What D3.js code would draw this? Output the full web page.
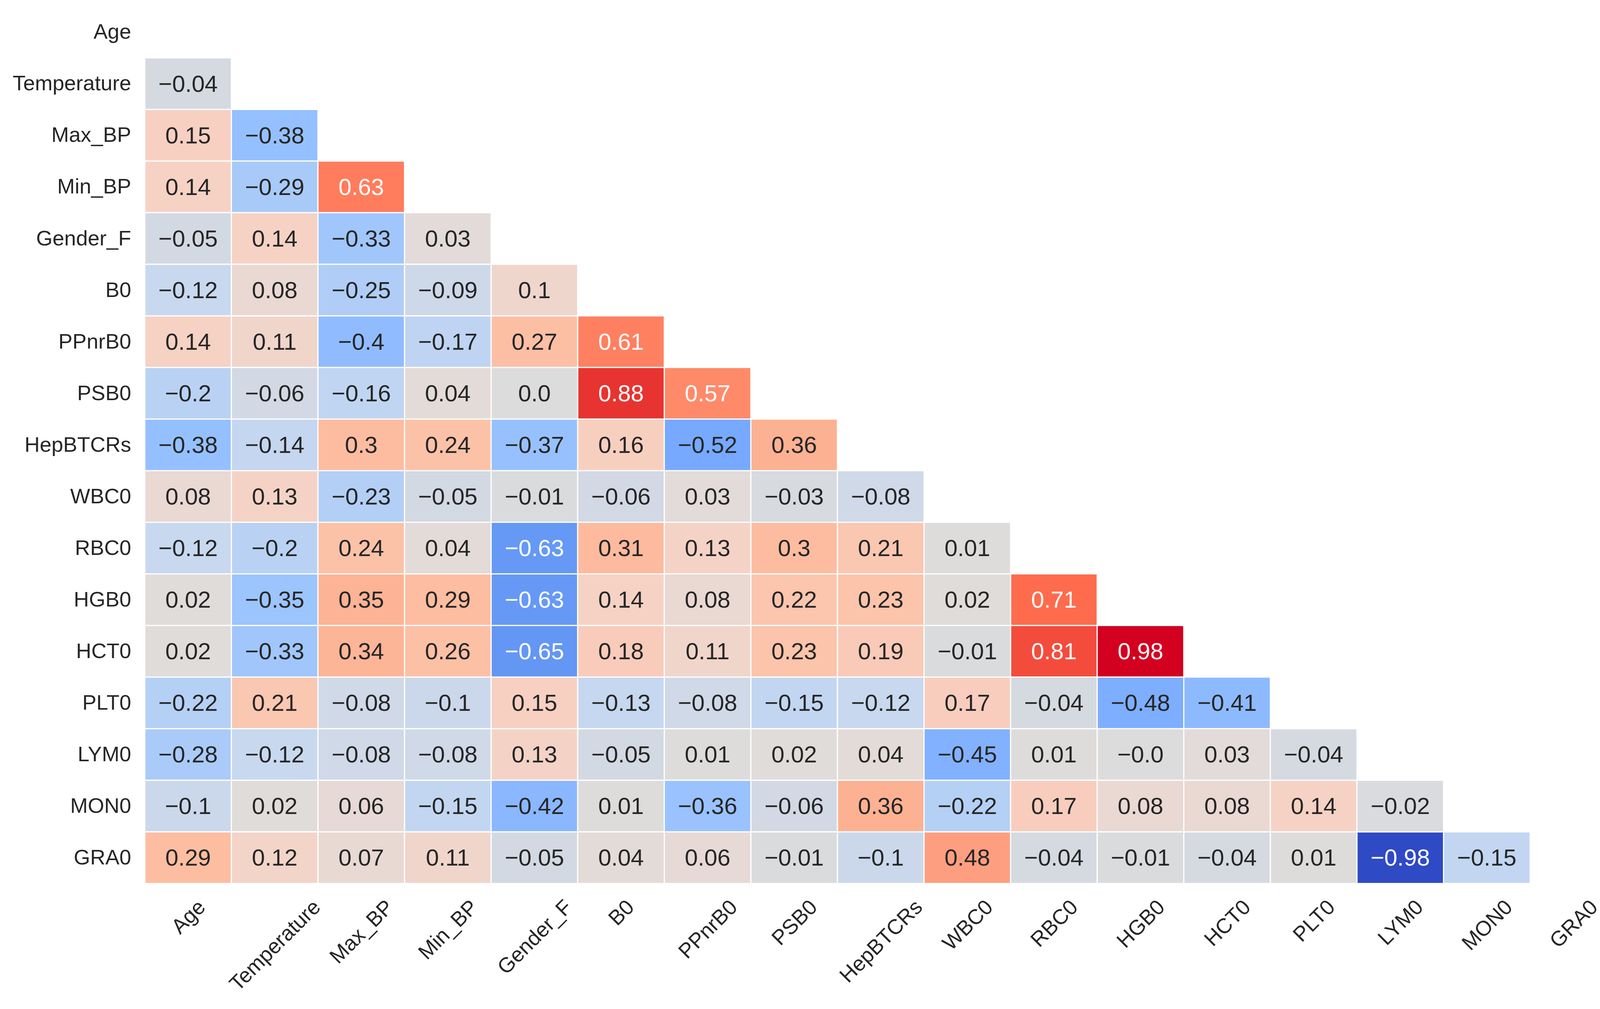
<!DOCTYPE html>
<html><head><meta charset="utf-8">
<script src="https://cdn.jsdelivr.net/npm/d3@7"></script>
<style>html,body{margin:0;padding:0;background:#fff;}</style>
</head><body>
<script>
// ---- data ----
const labels = ["Age","Temperature","Max_BP","Min_BP","Gender_F","B0","PPnrB0","PSB0","HepBTCRs","WBC0","RBC0","HGB0","HCT0","PLT0","LYM0","MON0","GRA0"];
// lower-triangle rows (row i has i values, columns 0..i-1)
const rowAge = [];
const rowTemperature = [-0.04];
const rowMaxBP = [0.15, -0.38];
const rowMinBP = [0.14, -0.29, 0.63];
const rowGenderF = [-0.05, 0.14, -0.33, 0.03];
const rowB0 = [-0.12, 0.08, -0.25, -0.09, 0.1];
const rowPPnrB0 = [0.14, 0.11, -0.4, -0.17, 0.27, 0.61];
const rowPSB0 = [-0.2, -0.06, -0.16, 0.04, 0.0, 0.88, 0.57];
const rowHepBTCRs = [-0.38, -0.14, 0.3, 0.24, -0.37, 0.16, -0.52, 0.36];
const rowWBC0 = [0.08, 0.13, -0.23, -0.05, -0.01, -0.06, 0.03, -0.03, -0.08];
const rowRBC0 = [-0.12, -0.2, 0.24, 0.04, -0.63, 0.31, 0.13, 0.3, 0.21, 0.01];
const rowHGB0 = [0.02, -0.35, 0.35, 0.29, -0.63, 0.14, 0.08, 0.22, 0.23, 0.02, 0.71];
const rowHCT0 = [0.02, -0.33, 0.34, 0.26, -0.65, 0.18, 0.11, 0.23, 0.19, -0.01, 0.81, 0.98];
const rowPLT0 = [-0.22, 0.21, -0.08, -0.1, 0.15, -0.13, -0.08, -0.15, -0.12, 0.17, -0.04, -0.48, -0.41];
const rowLYM0 = [-0.28, -0.12, -0.08, -0.08, 0.13, -0.05, 0.01, 0.02, 0.04, -0.45, 0.01, -0.0, 0.03, -0.04];
const rowMON0 = [-0.1, 0.02, 0.06, -0.15, -0.42, 0.01, -0.36, -0.06, 0.36, -0.22, 0.17, 0.08, 0.08, 0.14, -0.02];
const rowGRA0 = [0.29, 0.12, 0.07, 0.11, -0.05, 0.04, 0.06, -0.01, -0.1, 0.48, -0.04, -0.01, -0.04, 0.01, -0.98, -0.15];
const rows = [rowAge,rowTemperature,rowMaxBP,rowMinBP,rowGenderF,rowB0,rowPPnrB0,rowPSB0,rowHepBTCRs,rowWBC0,rowRBC0,rowHGB0,rowHCT0,rowPLT0,rowLYM0,rowMON0,rowGRA0];

// colour stops (diverging, coolwarm-like)
const colorStops = [-1,-0.98,-0.65,-0.63,-0.52,-0.45,-0.38,-0.33,-0.22,-0.12,-0.04,0,0.02,0.08,0.14,0.17,0.24,0.3,0.36,0.48,0.57,0.61,0.71,0.81,0.88,0.98,1];
const colorRange = ["#2c44c4","#2f4ac5","#6496f4","#6699f5","#76a9ff","#82b1ff","#95c0ff","#a0c6fc","#b5d0f5","#c8d8ef","#d5d9e0","#dcdcdc","#e0dcda","#ead8d2","#f6d2c4","#f8cdbd","#fcc2a8","#fdbca0","#fdb193","#fe9e80","#ff8a6a","#ff8060","#ff6b4d","#f44c3c","#e73430","#d40020","#d0001f"];

const cells = [];
rows.forEach((r,i)=> r.forEach((v,j)=> cells.push({row:labels[i], col:labels[j], v})));

const W = 4120, H = 2582;
const x0 = 370.7, cw = 221.65, y0 = 16, ch = 132.05;
const fsLab = 54, fsAnn = 60;
const font = "'Liberation Sans', Arial, Helvetica, sans-serif";

const svg = d3.select("body").append("svg").attr("width",W).attr("height",H)
  .style("font-family",font);

const x = d3.scaleBand().domain(labels).range([x0, x0 + cw*labels.length]).padding(0);
const y = d3.scaleBand().domain(labels).range([y0, y0 + ch*labels.length]).padding(0);
const color = d3.scaleLinear().domain(colorStops).range(colorRange).interpolate(d3.interpolateRgb).clamp(true);

const fmt = v => {
  let s = Math.abs(v).toString();
  if (!s.includes(".")) s += ".0";
  return (v < 0 || Object.is(v,-0)) ? "\u2212" + s : s;
};

const g = svg.append("g");
g.selectAll("rect").data(cells).join("rect")
  .attr("x", d=>x(d.col)).attr("y", d=>y(d.row))
  .attr("width", x.bandwidth()).attr("height", y.bandwidth())
  .attr("fill", d=>color(d.v))
  .attr("stroke","#fff").attr("stroke-width",3);

g.selectAll("text.ann").data(cells).join("text").attr("class","ann")
  .attr("x", d=>x(d.col)+x.bandwidth()/2)
  .attr("y", d=>y(d.row)+y.bandwidth()/2)
  .attr("text-anchor","middle").attr("dominant-baseline","central")
  .attr("font-size",fsAnn)
  .attr("fill", d=> Math.abs(d.v) >= 0.55 ? "#ffffff" : "#262626")
  .text(d=>fmt(d.v));

// y axis labels
const yAxis = d3.axisLeft(y).tickSize(0).tickPadding(35);
const yg = svg.append("g").attr("transform",`translate(${x0},0)`).call(yAxis);
yg.select(".domain").remove();
yg.selectAll("text").attr("font-size",fsLab).attr("font-family",font).attr("fill","#262626");

// x axis labels, rotated 45°, bbox top-aligned below heatmap
const xAxis = d3.axisBottom(x).tickSize(0).tickPadding(0);
const xg = svg.append("g").attr("transform",`translate(0,${y0 + ch*labels.length})`).call(xAxis);
xg.select(".domain").remove();
const topY = 2296 - (y0 + ch*labels.length);
xg.selectAll("text")
  .attr("font-size",fsLab).attr("font-family",font).attr("fill","#262626")
  .attr("text-anchor","middle").attr("dominant-baseline","central").attr("dy",null).attr("y",0)
  .each(function(){
    const L = this.getComputedTextLength();
    const cy = topY + 0.7071*(L/2 + 0.4*fsLab);
    d3.select(this).attr("transform",`translate(0,${cy}) rotate(-45)`);
  });
</script>
</body></html>
